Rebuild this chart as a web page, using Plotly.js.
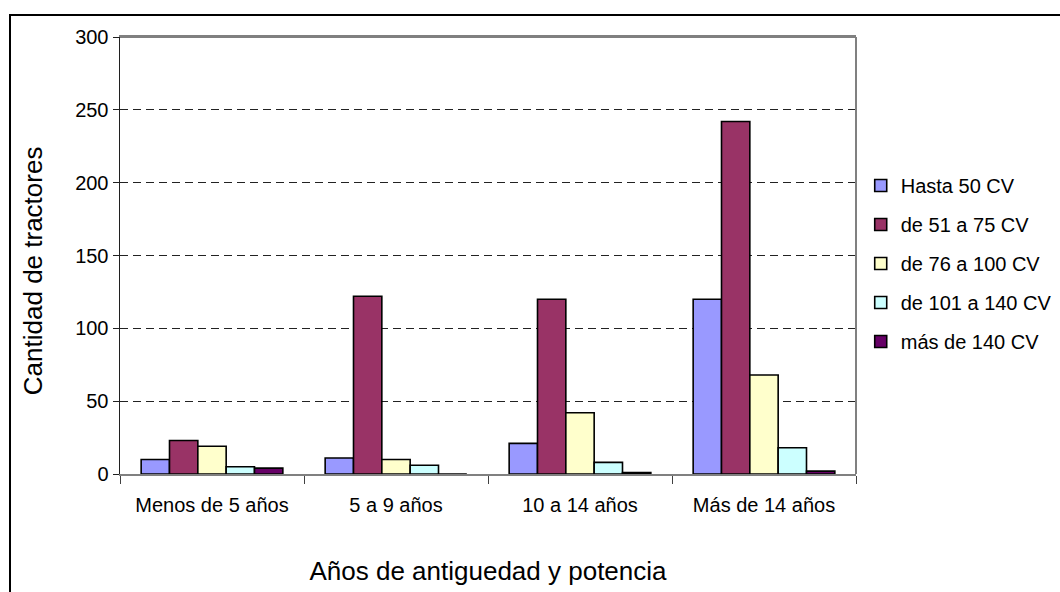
<!DOCTYPE html>
<html>
<head>
<meta charset="utf-8">
<script src="https://cdn.plot.ly/plotly-3.0.1.min.js"></script>
<style>
  html, body { margin: 0; padding: 0; background: #fff; overflow: hidden; }
  #frame { position: absolute; left: 9px; top: 14px; width: 1100px; height: 620px; border: 2px solid #000; }
  #chart { position: absolute; left: 0; top: 0; width: 1060px; height: 592px; }
</style>
</head>
<body>
<div id="frame"></div>
<div id="chart"></div>
<script>
const categories = ['Menos de 5 años', '5 a 9 años', '10 a 14 años', 'Más de 14 años'];
const seriesNames = ['Hasta 50 CV', 'de 51 a 75 CV', 'de 76 a 100 CV', 'de 101 a 140 CV', 'más de 140 CV'];
const hasta50 = [10, 11, 21, 120];
const de51a75 = [23, 122, 120, 242];
const de76a100 = [19, 10, 42, 68];
const de101a140 = [5, 6, 8, 18];
const mas140 = [4, 0, 1, 2];
const colors = ['#9999FF', '#993366', '#FFFFCC', '#CCFFFF', '#660066'];

const values = [hasta50, de51a75, de76a100, de101a140, mas140];
const traces = values.map((v, i) => ({
  type: 'bar',
  name: seriesNames[i],
  legendgroup: 'g' + i,
  x: categories,
  y: v,
  marker: { color: colors[i], line: { color: '#000', width: 1.6 } },
  hoverinfo: 'x+y+name'
}));

const font = 'Liberation Sans, Arial, sans-serif';
const layout = {
  width: 1060,
  height: 592,
  margin: { l: 120, r: 204, t: 37, b: 118, autoexpand: false },
  paper_bgcolor: 'rgba(0,0,0,0)',
  plot_bgcolor: '#fff',
  barmode: 'group',
  bargap: 0.23,
  bargroupgap: 0,
  font: { family: font, size: 20, color: '#000' },
  showlegend: true,
  legend: {
    xref: 'container', yref: 'container',
    x: 0.812, y: 0.555, xanchor: 'left', yanchor: 'middle',
    font: { family: font, size: 20, color: '#000' },
    tracegroupgap: 10, itemwidth: 30
  },
  xaxis: {
    type: 'category',
    showline: true, linecolor: '#808080', linewidth: 2,
    mirror: true,
    ticks: 'outside', tickson: 'boundaries', ticklen: 8, tickcolor: '#404040', tickwidth: 1,
    ticklabelstandoff: 12,
    tickfont: { family: font, size: 20, color: '#000' },
    title: { text: 'Años de antiguedad y potencia', font: { family: font, size: 26, color: '#000' }, standoff: 47 },
    showgrid: false, fixedrange: true
  },
  yaxis: {
    range: [0, 300], dtick: 50,
    showline: true, linecolor: '#202020', linewidth: 1.5,
    ticks: 'outside', ticklen: 6, tickcolor: '#202020',
    tickfont: { family: font, size: 20, color: '#000' },
    showgrid: true, gridcolor: '#222', griddash: '8px,5px', gridwidth: 1,
    zeroline: false,
    fixedrange: true
  },
  annotations: [
    {
      text: 'Cantidad de tractores', textangle: -90,
      xref: 'paper', yref: 'paper', x: -0.118, y: 0.4645,
      xanchor: 'center', yanchor: 'middle', showarrow: false,
      font: { family: font, size: 26, color: '#000' }
    }
  ],
  shapes: [
    { type: 'line', xref: 'paper', yref: 'paper', x0: 1, x1: 1, y0: 0, y1: 1, line: { color: '#808080', width: 2 } },
    { type: 'line', xref: 'paper', yref: 'paper', x0: 0, x1: 1, y0: 1, y1: 1, line: { color: '#808080', width: 2 } }
  ]
};

Plotly.newPlot('chart', traces, layout, { displayModeBar: false, staticPlot: true });
</script>
</body>
</html>
